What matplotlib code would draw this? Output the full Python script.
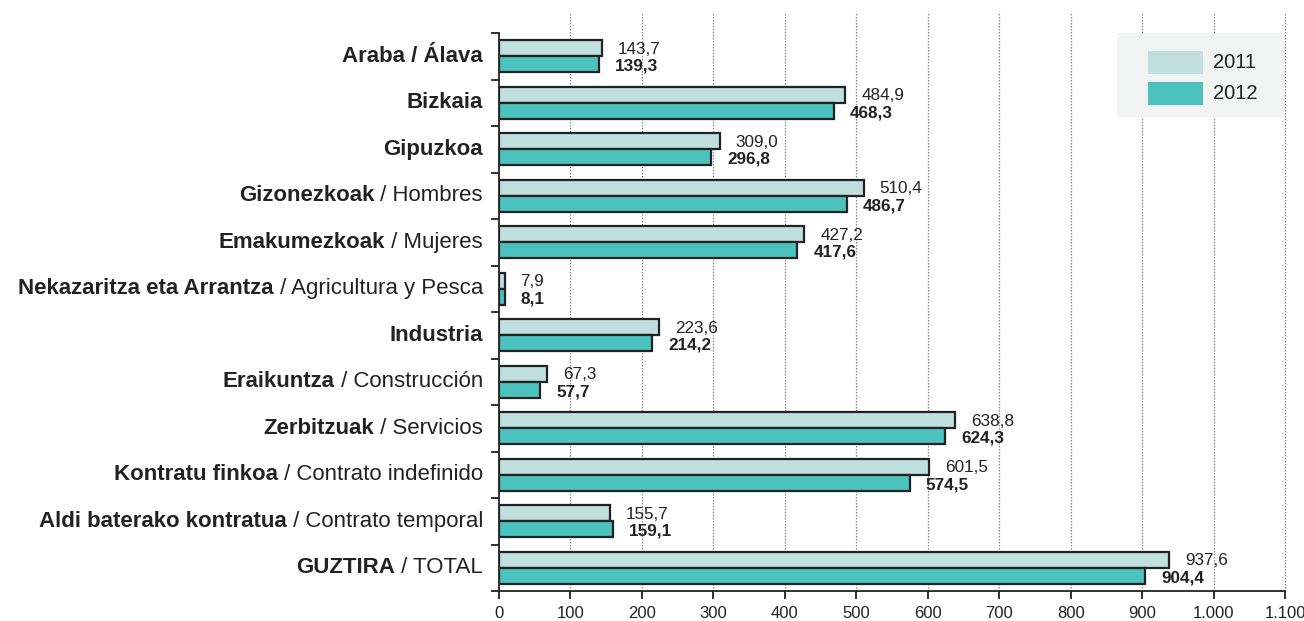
import matplotlib
matplotlib.use("Agg")
import matplotlib.pyplot as plt
from matplotlib.patches import Rectangle
from matplotlib.ticker import FuncFormatter, FixedLocator
import matplotlib.transforms as mtransforms
from matplotlib import font_manager as fm

reg_file = None
bold_file = None
for f in fm.fontManager.ttflist:
    base = f.fname.split('/')[-1]
    if base == 'LiberationSans-Regular.ttf':
        reg_file = f.fname
    if base == 'LiberationSans-Bold.ttf':
        bold_file = f.fname

FP_R = fm.FontProperties(fname=reg_file) if reg_file else fm.FontProperties(family='Liberation Sans')
FP_B = (fm.FontProperties(fname=bold_file) if bold_file
        else fm.FontProperties(family='Liberation Sans', weight='bold'))

bold_names = ["Araba / Álava", "Bizkaia", "Gipuzkoa", "Gizonezkoak", "Emakumezkoak",
              "Nekazaritza eta Arrantza", "Industria", "Eraikuntza", "Zerbitzuak",
              "Kontratu finkoa", "Aldi baterako kontratua", "GUZTIRA"]
regular_names = ["", "", "", " / Hombres", " / Mujeres", " / Agricultura y Pesca", "",
                 " / Construcción", " / Servicios", " / Contrato indefinido",
                 " / Contrato temporal", " / TOTAL"]
values_2011 = [143.7, 484.9, 309.0, 510.4, 427.2, 7.9, 223.6, 67.3, 638.8, 601.5, 155.7, 937.6]
values_2012 = [139.3, 468.3, 296.8, 486.7, 417.6, 8.1, 214.2, 57.7, 624.3, 574.5, 159.1, 904.4]
series_labels = ["2011", "2012"]
x_ticks = [0, 100, 200, 300, 400, 500, 600, 700, 800, 900, 1000, 1100]

c2011 = "#c0e0df"
c2012 = "#4cc2be"
edge = "#222222"
txt = "#222222"

CAT_SIZE = 16.0
VAL_SIZE = 12.3
TICK_SIZE = 12
LEG_SIZE = 14.5

def fp(bold=False, size=12.5):
    p = (FP_B if bold else FP_R).copy()
    p.set_size(size)
    return p

W, H = 1304, 621
fig = plt.figure(figsize=(W / 100, H / 100), dpi=100)
ax = fig.add_axes([499 / W, 30 / H, (1285 - 499) / W, (591 - 12) / H])

n = len(bold_names)
pos = list(range(n))
bh = 0.34

ax.barh([p - bh / 2 for p in pos], values_2011, height=bh, color=c2011,
        edgecolor=edge, linewidth=1.6, zorder=3)
ax.barh([p + bh / 2 for p in pos], values_2012, height=bh, color=c2012,
        edgecolor=edge, linewidth=1.6, zorder=3)

def fmt(v):
    return f"{v:.1f}".replace('.', ',')

for p, v1, v2 in zip(pos, values_2011, values_2012):
    ax.annotate(fmt(v1), xy=(v1, p - bh / 2 + 0.02), xytext=(11.5, 0), textcoords='offset points',
                ha='left', va='center', fontproperties=fp(False, VAL_SIZE), color=txt, zorder=4)
    ax.annotate(fmt(v2), xy=(v2, p + bh / 2 + 0.04), xytext=(11.5, 0), textcoords='offset points',
                ha='left', va='center', fontproperties=fp(True, VAL_SIZE), color=txt, zorder=4)

ax.set_xlim(0, 1100)
ax.set_ylim(11.5, -0.5 - 21 / 46.5)

for t in x_ticks[1:]:
    ax.axvline(t, color='#8a8a8a', linewidth=0.9, linestyle=(0, (1.2, 1.2)), zorder=1,
               clip_on=False)

for s in ['top', 'right']:
    ax.spines[s].set_visible(False)
ax.spines['left'].set_bounds(-0.5, 11.5)
ax.spines['left'].set_linewidth(1.3)
ax.spines['bottom'].set_linewidth(1.3)
ax.spines['left'].set_color(edge)
ax.spines['bottom'].set_color(edge)

ax.xaxis.set_major_locator(FixedLocator(x_ticks))
ax.xaxis.set_major_formatter(FuncFormatter(lambda v, _: f"{int(v):,}".replace(',', '.')))
ax.tick_params(axis='x', direction='out', length=6, width=1.3, colors=edge, pad=5)
for lbl in ax.get_xticklabels():
    lbl.set_fontproperties(fp(False, TICK_SIZE))
ax.yaxis.set_major_locator(FixedLocator([p - 0.5 for p in pos] + [11.5]))
ax.tick_params(axis='y', direction='out', length=6, width=1.3, labelleft=False, colors=edge)

tr = mtransforms.blended_transform_factory(ax.transAxes, ax.transData)
off = mtransforms.offset_copy(tr, fig=fig, x=-16, y=0, units='dots')
for p, b, r in zip(pos, bold_names, regular_names):
    if r:
        t = ax.text(0, p, r, transform=off, ha='right', va='center',
                    fontproperties=fp(False, CAT_SIZE), color=txt)
        ax.annotate(b, xy=(0, 0), xycoords=t, ha='right', va='bottom',
                    fontproperties=fp(True, CAT_SIZE), color=txt, annotation_clip=False)
    else:
        ax.text(0, p, b, transform=off, ha='right', va='center',
                fontproperties=fp(True, CAT_SIZE), color=txt)

ft = fig.transFigure
def fx(x):
    return x / W
def fy(y):
    return (H - y) / H
fig.patches.append(Rectangle((fx(1117), fy(117)), (1285 - 1117) / W, (117 - 33) / H,
                             transform=ft, facecolor='#f2f4f4', edgecolor='none', zorder=5))
for (y0, y1), col, lab in zip([(51, 74), (82, 105)], [c2011, c2012], series_labels):
    fig.patches.append(Rectangle((fx(1148), fy(y1)), (1203 - 1148) / W, (y1 - y0) / H,
                                 transform=ft, facecolor=col, edgecolor='none', zorder=6))
    fig.text(fx(1213), fy((y0 + y1) / 2), lab, ha='left', va='center',
             fontproperties=fp(False, LEG_SIZE), color=txt, zorder=7)

fig.savefig("out.png", dpi=100)
